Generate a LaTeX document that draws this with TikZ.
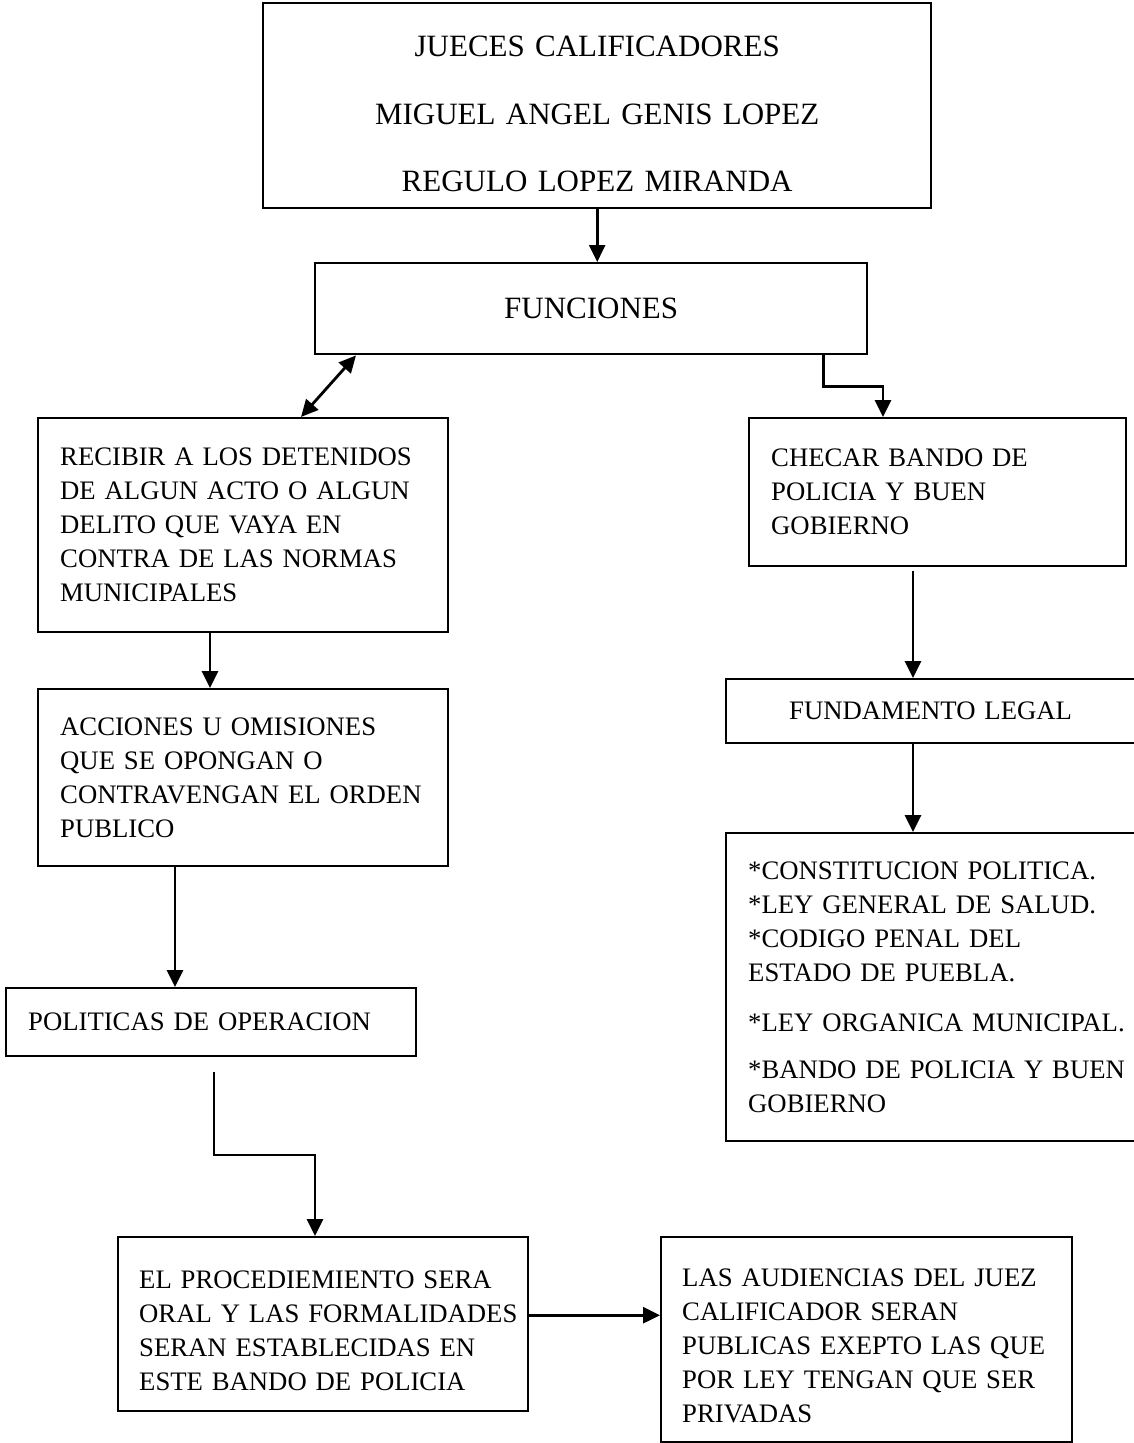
\documentclass[tikz,border=0pt]{standalone}
\usepackage{fontspec}
\setmainfont{Liberation Serif}
\usetikzlibrary{arrows.meta}
\newcommand\bodyfont{\fontsize{26.7}{34}\selectfont}
\newcommand\titlefont{\fontsize{31}{67.5}\selectfont}
\begin{document}
\begin{tikzpicture}[x=1pt,y=-1pt,
  box/.style={draw, line width=2.4pt, anchor=north west, inner xsep=22pt,
    inner ysep=0pt, align=left, font=\bodyfont,
    execute at begin node={\hyphenpenalty=10000\exhyphenpenalty=10000}},
  arr/.style={line width=2.8pt, -{Triangle[length=17pt,width=16pt]}},
  biarr/.style={line width=2.8pt, {Triangle[length=17pt,width=16pt]}-{Triangle[length=17pt,width=16pt]}}]
\useasboundingbox (0,0) rectangle (1134,1443);
\clip (0,0) rectangle (1134,1443);

% header and functions
\node[box, align=center, font=\titlefont, minimum width=668pt, minimum height=205pt,
  text width=624pt] (judges) at (262,2)
  {\rule{0pt}{37pt}JUECES CALIFICADORES\\ MIGUEL ANGEL GENIS LOPEZ\\ REGULO LOPEZ MIRANDA};
\node[box, align=center, font=\titlefont, minimum width=552pt, minimum height=91pt,
  text width=508pt] (funciones) at (314,262) {FUNCIONES};

% left column
\node[box, minimum width=410pt, minimum height=214pt, text width=366pt] (recibir) at (37,417)
  {RECIBIR A LOS DETENIDOS\\ DE ALGUN ACTO O ALGUN\\ DELITO QUE VAYA EN\\ CONTRA DE LAS NORMAS\\ MUNICIPALES};
\node[box, minimum width=410pt, minimum height=177pt, text width=366pt] (acciones) at (37,688)
  {ACCIONES U OMISIONES\\ QUE SE OPONGAN O\\ CONTRAVENGAN EL ORDEN\\ PUBLICO};
\node[box, minimum width=410pt, minimum height=68pt, text width=366pt] (politicas) at (5,987)
  {POLITICAS DE OPERACION};

% bottom row
\node[box, inner xsep=21pt, minimum width=410pt, minimum height=174pt, text width=368pt] (proced) at (117,1236)
  {\rule{0pt}{30pt}EL PROCEDIEMIENTO SERA\\ \mbox{ORAL Y LAS FORMALIDADES}\\ SERAN ESTABLECIDAS EN\\ ESTE BANDO DE POLICIA};
\node[box, inner xsep=21pt, minimum width=411pt, minimum height=205pt, text width=369pt] (audiencias) at (660,1236)
  {\rule{0pt}{30pt}LAS AUDIENCIAS DEL JUEZ\\ CALIFICADOR SERAN\\ PUBLICAS EXEPTO LAS QUE\\ POR LEY TENGAN QUE SER\\ PRIVADAS};

% right column
\node[box, minimum width=377pt, minimum height=148pt, text width=333pt] (checar) at (748,417)
  {CHECAR BANDO DE\\ POLICIA Y BUEN\\ GOBIERNO};
\node[box, minimum width=440pt, minimum height=64pt, text width=396pt] (fundamento) at (725,678)
  {\hspace*{41pt}FUNDAMENTO LEGAL};
\node[box, minimum width=440pt, minimum height=308pt, text width=396pt] (leyes) at (725,832)
  {{*}CONSTITUCION POLITICA.\\ {*}LEY GENERAL DE SALUD.\\ {*}CODIGO PENAL DEL\\ ESTADO DE PUEBLA.\\[16pt]
   {*}LEY ORGANICA MUNICIPAL.\\[13pt] {*}BANDO DE POLICIA Y BUEN\\ GOBIERNO};

% loose connector ends
\coordinate (polout) at (214,1072);
\coordinate (chkout) at (913,571);

% connectors
\draw[arr] (judges.south) -- (judges.south |- funciones.north);
\draw[biarr] ([xshift=42pt]funciones.south west) -- ([xshift=264pt]recibir.north west);
\draw[arr] ([xshift=-45pt]funciones.south east) -- ++(0,31) -| ([xshift=135pt]checar.north west);
\draw[arr] ([xshift=173pt]recibir.south west) -- ([xshift=173pt]acciones.north west);
\draw[arr] ([xshift=138pt]acciones.south west) -- ([xshift=170pt]politicas.north west);
\draw[arr] (polout) -- ++(0,83) -| ([xshift=198pt]proced.north west);
\draw[arr] ([yshift=9pt]proced.east) -- ([yshift=9pt]proced.east -| audiencias.west);
\draw[arr] (chkout) -- (chkout |- fundamento.north);
\draw[arr] ([xshift=188pt]fundamento.south west) -- ([xshift=188pt]leyes.north west);
\end{tikzpicture}
\end{document}
